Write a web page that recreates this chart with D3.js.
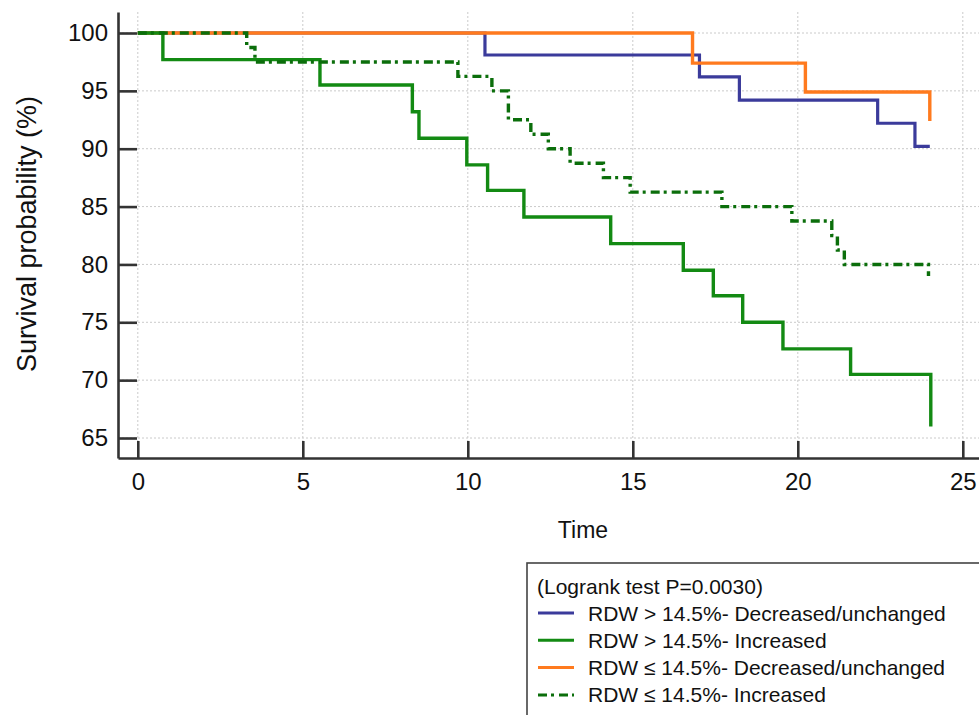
<!DOCTYPE html>
<html lang="en">

<head>
    <meta charset="UTF-8">
    <title>Kaplan-Meier RDW</title>
    <script src="https://cdn.jsdelivr.net/npm/d3@7"></script>
    <style>
        html, body { margin: 0; padding: 0; background: #fff; }
        #chart { width: 979px; height: 715px; }
        text { font-family: "Liberation Sans", Arial, sans-serif; fill: #111; }
    </style>
</head>

<body>
    <div id="chart"></div>
</body>

<script>
    // tick labels
    const xTicks = [0, 5, 10, 15, 20, 25];
    const yTicks = [65, 70, 75, 80, 85, 90, 95, 100];

    // RDW > 14.5% - Decreased/unchanged
    const blueTimes = [0, 10.52, 17.02, 18.23, 22.42, 23.55, 24.0];
    const blueSurv = [100, 98.1, 96.2, 94.2, 92.2, 90.2, 90.2];
    // RDW > 14.5% - Increased
    const greenTimes = [0, 0.76, 5.52, 8.32, 8.52, 9.97, 10.6, 11.7, 14.33, 16.53, 17.44, 18.33, 19.55, 21.6, 24.03];
    const greenSurv = [100, 97.7, 95.5, 93.2, 90.9, 88.6, 86.4, 84.1, 81.8, 79.5, 77.3, 75.0, 72.7, 70.5, 66.0];
    // RDW <= 14.5% - Decreased/unchanged
    const orangeTimes = [0, 16.81, 20.23, 24.0];
    const orangeSurv = [100, 97.4, 94.9, 92.4];
    // RDW <= 14.5% - Increased
    const dashTimes = [0, 3.3, 3.55, 9.7, 10.73, 11.23, 11.91, 12.44, 13.1, 14.11, 14.92, 17.7, 19.82, 21.03, 21.2, 21.41, 23.96];
    const dashSurv = [100, 98.75, 97.5, 96.25, 95.0, 92.5, 91.25, 90.0, 88.75, 87.5, 86.25, 85.0, 83.75, 82.5, 81.25, 80.0, 79.0];

    const legendTitle = "(Logrank test P=0.0030)";
    const legendLabels = [
        "RDW > 14.5%- Decreased/unchanged",
        "RDW > 14.5%- Increased",
        "RDW \u2264 14.5%- Decreased/unchanged",
        "RDW \u2264 14.5%- Increased"
    ];

    let draw = () => {
        let svg = d3.select("#chart").append("svg")
            .attr("class", "chart")
            .attr("width", 979)
            .attr("height", 715);

        // plot box: left axis at x=118, bottom axis at y=458
        let x = d3.scaleLinear().domain([-0.6, 25.5]).range([118, 979.3]);
        let y = d3.scaleLinear().domain([63.272, 101.815]).range([458, 12]);

        // dotted grid
        let grid = svg.append("g").attr("class", "grid")
            .attr("stroke", "#cacaca")
            .attr("stroke-width", 1)
            .attr("stroke-dasharray", "2,2");
        grid.selectAll(".vg").data(xTicks).enter().append("line")
            .attr("x1", d => x(d)).attr("x2", d => x(d))
            .attr("y1", y.range()[1]).attr("y2", y.range()[0]);
        grid.selectAll(".hg").data(yTicks).enter().append("line")
            .attr("x1", x.range()[0]).attr("x2", x.range()[1])
            .attr("y1", d => y(d)).attr("y2", d => y(d));

        // survival curves
        let line = d3.line()
            .x(d => x(d[0]))
            .y(d => y(d[1]))
            .curve(d3.curveStepAfter);

        let series = [
            { t: blueTimes, s: blueSurv, color: "#3b3b9b", width: 3.2, dash: null },
            { t: orangeTimes, s: orangeSurv, color: "#ff7a1e", width: 3.4, dash: null },
            { t: greenTimes, s: greenSurv, color: "#138a13", width: 3.4, dash: null },
            { t: dashTimes, s: dashSurv, color: "#0b6e0b", width: 3.4, dash: "9,4,3,5" }
        ];

        svg.append("g").selectAll("path").data(series).enter().append("path")
            .attr("fill", "none")
            .attr("stroke", d => d.color)
            .attr("stroke-width", d => d.width)
            .attr("stroke-dasharray", d => d.dash)
            .attr("d", d => line(d.t.map((t, i) => [t, d.s[i]])));

        // axes (inside ticks)
        let xAxis = d3.axisBottom(x).tickValues(xTicks).tickSize(-17).tickSizeOuter(0).tickPadding(15);
        let yAxis = d3.axisLeft(y).tickValues(yTicks).tickSize(-19).tickSizeOuter(0).tickPadding(10);

        let gx = svg.append("g").attr("class", "xaxis")
            .attr("transform", "translate(0," + y.range()[0] + ")")
            .call(xAxis);
        let gy = svg.append("g").attr("class", "yaxis")
            .attr("transform", "translate(" + x.range()[0] + ",0)")
            .call(yAxis);

        [gx, gy].forEach(g => {
            g.select(".domain").attr("stroke", "#333").attr("stroke-width", 2.6);
            g.selectAll(".tick line").attr("stroke", "#333").attr("stroke-width", 2.6);
            g.selectAll(".tick text")
                .style("font-family", "'Liberation Sans', Arial, sans-serif")
                .style("font-size", "24px")
                .attr("fill", "#111");
        });

        // axis titles
        svg.append("text")
            .attr("x", 583).attr("y", 538)
            .attr("text-anchor", "middle")
            .style("font-size", "23px")
            .text("Time");

        svg.append("text")
            .attr("transform", "translate(36,234) rotate(-90)")
            .attr("text-anchor", "middle")
            .style("font-size", "27px")
            .text("Survival probability (%)");

        // legend box (runs off the right and bottom edge)
        let lg = svg.append("g").attr("class", "legend");
        lg.append("rect")
            .attr("x", 527).attr("y", 563)
            .attr("width", 500).attr("height", 200)
            .attr("fill", "#fff")
            .attr("stroke", "#444")
            .attr("stroke-width", 1.6);
        lg.append("text")
            .attr("x", 537).attr("y", 594)
            .style("font-size", "21px")
            .text(legendTitle);

        let rows = lg.selectAll(".row").data(legendLabels).enter().append("g")
            .attr("transform", (d, i) => "translate(0," + (613 + i * 27.3) + ")");
        rows.append("line")
            .attr("x1", 538).attr("x2", 574)
            .attr("stroke", (d, i) => series[[0, 2, 1, 3][i]].color)
            .attr("stroke-width", 3)
            .attr("stroke-dasharray", (d, i) => i === 3 ? "9,4,3,5" : null);
        rows.append("text")
            .attr("x", 588).attr("y", 7.5)
            .style("font-size", "21px")
            .text(d => d);
    }

    draw();
</script>

</html>
